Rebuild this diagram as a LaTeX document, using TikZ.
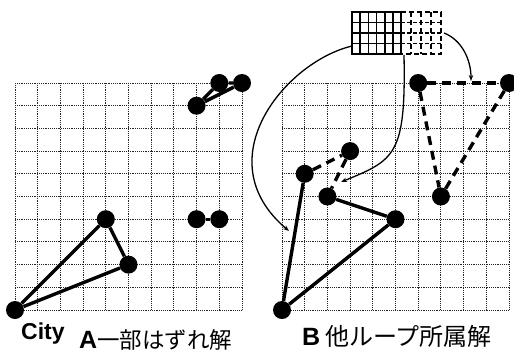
\documentclass[tikz,border=0pt]{standalone}
\usepackage{fontspec}
\setmainfont{Liberation Sans}
\newfontfamily\jp{Noto Sans CJK JP}
\usetikzlibrary{arrows.meta}
\begin{document}
\begin{tikzpicture}[x=1pt,y=-1pt,
  city/.style={circle,fill=black,inner sep=0pt,minimum size=18pt},
  gridline/.style={densely dotted,line width=0.85pt,black!85},
  tour/.style={line width=3.4pt},
  other/.style={line width=3.4pt,dash pattern=on 9pt off 6pt},
  link/.style={line width=1.3pt,-{Stealth[length=6pt,width=4.5pt]}},
  lbl/.style={inner sep=0pt,anchor=base west}]
\path[use as bounding box] (0,0) rectangle (514,354);

% grids
\foreach \g in {15,282}{
  \foreach \i in {0,...,10}{
    \draw[gridline] ({\g+\i*22.7},83) -- ({\g+\i*22.7},310);
    \draw[gridline] (\g,{83+\i*22.7}) -- ({\g+227},{83+\i*22.7});
  }
}

% left panel
\begin{scope}[shift={(15,83)},x=22.7pt,y=-22.7pt]
  \node[city] (a1) at (8,1) {};
  \node[city] (a2) at (9,0) {};
  \node[city] (a3) at (10,0) {};
  \node[city] (a4) at (4,6) {};
  \node[city] (a5) at (5,8) {};
  \node[city] (a6) at (0,10) {};
  \node[city] (a7) at (8,6) {};
  \node[city] (a8) at (9,6) {};
\end{scope}
\draw[tour] (a1) -- (a2) -- (a3) -- (a1);
\draw[tour] (a6) -- (a4) -- (a5) -- (a6);
\draw[tour] (a7) -- (a8);

% right panel
\begin{scope}[shift={(282,83)},x=22.7pt,y=-22.7pt]
  \node[city] (b1) at (6,0) {};
  \node[city] (b2) at (10,0) {};
  \node[city] (b3) at (7,5) {};
  \node[city] (b4) at (3,3) {};
  \node[city] (b5) at (1,4) {};
  \node[city] (b6) at (2,5) {};
  \node[city] (b7) at (5,6) {};
  \node[city] (b8) at (0,10) {};
\end{scope}
\draw[tour] (b8) -- (b5);
\draw[tour] (b8) -- (b7) -- (b6);
\draw[other] (b5) -- (b4) -- (b6);
\draw[other] (b1) -- (b2);
\draw[other] (b1) -- (b3);
\draw[other] (b2) -- (b3);

% small map icon
\draw[line width=2.6pt] (352,12) rectangle (401,54);
\foreach \x in {360.2,368.3,376.5,384.7,392.8}
  \draw[line width=1.6pt] (\x,12) -- (\x,54);
\foreach \y in {22.5,33,43.5}{
  \draw[line width=1.6pt] (352,\y) -- (401,\y);
  \draw[line width=1.3pt,dash pattern=on 4pt off 2pt] (401,\y) -- (441,\y);
}
\foreach \x in {411,421,431}
  \draw[line width=2pt,dash pattern=on 5pt off 3pt] (\x,12) -- (\x,54);
\draw[line width=2.6pt,dash pattern=on 5pt off 3pt] (401,12) -- (441,12) -- (441,54) -- (401,54);

% arrows
\coordinate (s1) at (352,46);
\coordinate (e1) at (289,231);
\coordinate (s2) at (404,55);
\coordinate (e2) at (341,182);
\coordinate (s3) at (444,33);
\coordinate (e3) at (471,81);
\draw[link] (s1) .. controls (285,62) and (205,160) .. (e1);
\draw[link] (s2) .. controls (406,155) and (395,160) .. (e2);
\draw[link] (s3) .. controls (462,40) and (471,60) .. (e3);

% labels
\node[lbl] (city) at (21,339) {\fontsize{23}{23}\selectfont\bfseries City};
\node[lbl] (labA) at (79,348) {\fontsize{25}{25}\selectfont\bfseries A\mdseries\jp\fontsize{22.5}{22.5}\selectfont 一部はずれ解};
\node[lbl] (labB) at (302,345) {\fontsize{25}{25}\selectfont\bfseries B\hspace{5pt}\mdseries\jp\fontsize{24}{24}\selectfont 他ループ所属解};
\end{tikzpicture}
\end{document}
